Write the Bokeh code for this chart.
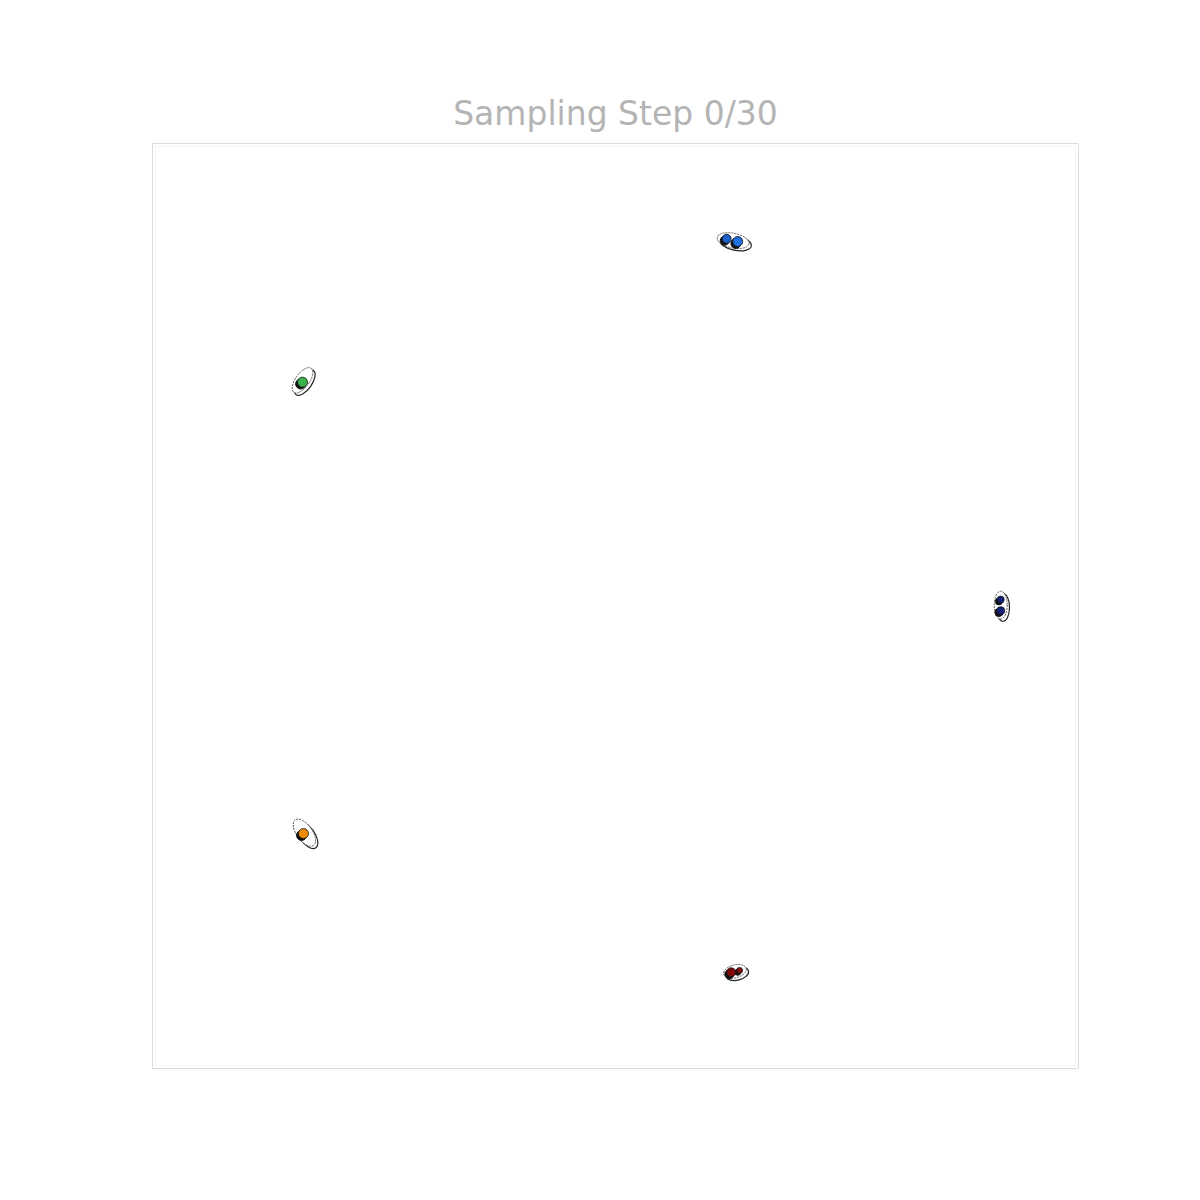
from bokeh.plotting import figure
from bokeh.models import Range1d, BoxAnnotation
from bokeh.embed import file_html
from bokeh.resources import INLINE

title_text = "Sampling Step 0/30"

# particle positions (data units, 0..100 frame)
dot_x = [62.0, 63.2, 16.2, 91.6, 91.6, 16.3, 62.5, 63.4]
dot_y = [89.7, 89.4, 74.2, 50.7, 49.5, 25.4, 10.4, 10.6]
dot_color = ["#1a5fc8", "#1f6fdc", "#37b24d", "#15207e", "#15207e", "#f08a00", "#800a0a", "#800a0a"]
dot_size = [9, 10, 10, 7, 8, 10, 9, 6]

# uncertainty ellipses around each cluster
ell_x = [62.7, 16.2, 91.6, 16.4, 62.9]
ell_y = [89.5, 74.4, 50.1, 25.5, 10.5]
ell_w = [3.5, 3.2, 1.4, 3.4, 2.5]
ell_h = [1.6, 1.5, 3.0, 1.7, 1.4]
ell_angle = [-0.2, 0.95, 0.0, -0.95, 0.25]

p = figure(width=1200, height=1200, output_backend="svg", toolbar_location=None,
           x_range=Range1d(0, 100), y_range=Range1d(0, 100),
           min_border_left=152, min_border_right=122, min_border_top=143, min_border_bottom=132)
p.title.text = title_text
p.title.align = "center"
p.title.text_font = "DejaVu Sans"
p.title.text_font_size = "33px"
p.title.text_font_style = "normal"
p.title.text_color = "#b4b4b4"
p.title.standoff = 22
p.axis.visible = False
p.xgrid.visible = False
p.ygrid.visible = False
p.background_fill_color = "white"
p.border_fill_color = "white"
p.outline_line_color = "#dcdcdc"
p.outline_line_width = 1

p.add_layout(BoxAnnotation(left=0.33, right=99.67, bottom=0.33, top=99.67,
                           fill_alpha=0, line_color="#dcdcdc", line_width=1))

sh = 0.25
p.ellipse([x + sh for x in ell_x], [y - sh for y in ell_y], width=ell_w, height=ell_h, angle=ell_angle,
          fill_color="white", line_color="#222222", line_width=1.2)
p.ellipse(ell_x, ell_y, width=ell_w, height=ell_h, angle=ell_angle,
          fill_color="white", line_color="#555555", line_width=1, line_dash="2 1")
p.scatter([x - 0.2 for x in dot_x], [y - 0.2 for y in dot_y], size=dot_size, color="#111111")
p.scatter(dot_x, dot_y, size=dot_size, fill_color=dot_color, line_color="#111111", line_width=0.8)

open("out.html", "w").write(file_html(p, INLINE))
